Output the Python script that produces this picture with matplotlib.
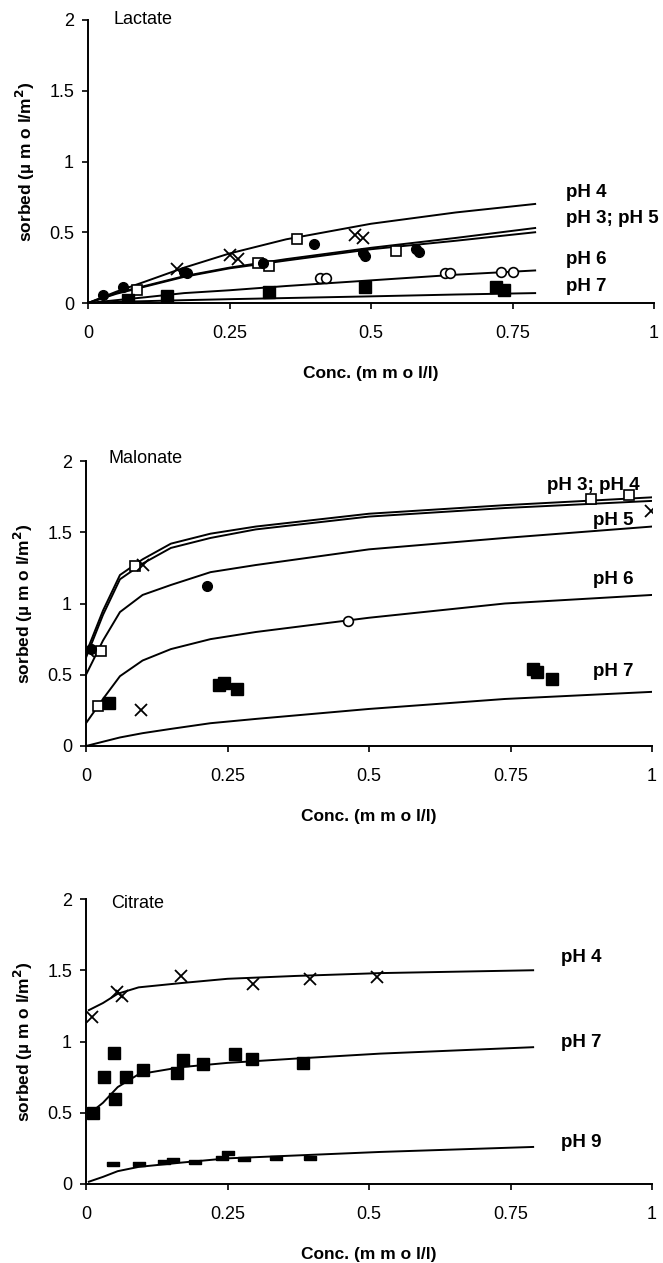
import matplotlib
matplotlib.use("Agg")
import matplotlib.pyplot as plt

plt.rcParams['font.family'] = ['Liberation Sans', 'DejaVu Sans']

# ---------------- Lactate ----------------
lac_x = [0, 0.05, 0.1, 0.17, 0.25, 0.35, 0.5, 0.65, 0.79]
lac_ph4 = [0, 0.08, 0.15, 0.25, 0.35, 0.45, 0.56, 0.64, 0.70]
lac_ph3 = [0, 0.07, 0.12, 0.19, 0.25, 0.31, 0.39, 0.46, 0.53]
lac_ph5 = [0, 0.065, 0.115, 0.185, 0.245, 0.30, 0.38, 0.44, 0.50]
lac_ph6 = [0, 0.02, 0.04, 0.07, 0.09, 0.12, 0.16, 0.20, 0.23]
lac_ph7 = [0, 0.008, 0.013, 0.02, 0.027, 0.035, 0.047, 0.06, 0.07]

lac_open_sq_x = [0.086, 0.30, 0.32, 0.37, 0.545]
lac_open_sq_y = [0.09, 0.28, 0.26, 0.45, 0.37]
lac_cross_x = [0.157, 0.25, 0.265, 0.472, 0.486]
lac_cross_y = [0.24, 0.34, 0.31, 0.48, 0.46]
lac_dot_x = [0.027, 0.062, 0.17, 0.175, 0.31, 0.40, 0.485, 0.49, 0.58, 0.585]
lac_dot_y = [0.06, 0.11, 0.22, 0.21, 0.28, 0.42, 0.35, 0.33, 0.38, 0.36]
lac_circ_x = [0.41, 0.42, 0.63, 0.64, 0.73, 0.75]
lac_circ_y = [0.18, 0.18, 0.21, 0.21, 0.22, 0.22]
lac_fsq_x = [0.07, 0.14, 0.32, 0.49, 0.72, 0.735]
lac_fsq_y = [0.02, 0.05, 0.08, 0.11, 0.11, 0.09]

# ---------------- Malonate ----------------
mal_x = [0, 0.03, 0.06, 0.1, 0.15, 0.22, 0.3, 0.5, 0.74, 1.0]
mal_ph3 = [0.65, 0.95, 1.2, 1.31, 1.42, 1.49, 1.54, 1.63, 1.69, 1.745]
mal_ph4 = [0.62, 0.92, 1.17, 1.28, 1.39, 1.46, 1.52, 1.61, 1.67, 1.72]
mal_ph5 = [0.5, 0.74, 0.94, 1.06, 1.13, 1.22, 1.27, 1.38, 1.46, 1.54]
mal_ph6 = [0.16, 0.33, 0.49, 0.6, 0.68, 0.75, 0.8, 0.9, 1.0, 1.06]
mal_ph7 = [0, 0.03, 0.06, 0.09, 0.12, 0.16, 0.19, 0.26, 0.33, 0.38]

mal_open_sq_x = [0.026, 0.086, 0.022, 0.893, 0.96]
mal_open_sq_y = [0.67, 1.26, 0.28, 1.73, 1.76]
mal_cross_x = [0.004, 0.10, 0.097, 0.998]
mal_cross_y = [0.67, 1.27, 0.25, 1.65]
mal_dot_x = [0.008, 0.213]
mal_dot_y = [0.68, 1.12]
mal_circ_x = [0.463]
mal_circ_y = [0.88]
mal_fsq_x = [0.04, 0.235, 0.243, 0.267, 0.79, 0.796, 0.824]
mal_fsq_y = [0.30, 0.43, 0.44, 0.40, 0.54, 0.52, 0.47]

# ---------------- Citrate ----------------
cit_x = [0.005, 0.03, 0.056, 0.093, 0.168, 0.25, 0.37, 0.52, 0.79]
cit_ph4 = [1.22, 1.27, 1.335, 1.38, 1.41, 1.44, 1.46, 1.48, 1.50]
cit_ph7 = [0.49, 0.57, 0.68, 0.77, 0.82, 0.85, 0.88, 0.915, 0.96]
cit_ph9 = [0.016, 0.05, 0.09, 0.12, 0.15, 0.18, 0.2, 0.225, 0.26]

cit_cross_x = [0.01, 0.055, 0.064, 0.168, 0.295, 0.395, 0.514]
cit_cross_y = [1.17, 1.345, 1.32, 1.46, 1.405, 1.44, 1.455]
cit_fsq_x = [0.013, 0.032, 0.049, 0.052, 0.07, 0.1, 0.16, 0.172, 0.207, 0.264, 0.293, 0.383]
cit_fsq_y = [0.5, 0.75, 0.92, 0.6, 0.75, 0.8, 0.78, 0.87, 0.84, 0.915, 0.88, 0.85]
cit_bar_x = [0.047, 0.093, 0.138, 0.153, 0.193, 0.24, 0.25, 0.279, 0.336, 0.396]
cit_bar_y = [0.138, 0.138, 0.152, 0.168, 0.156, 0.18, 0.215, 0.175, 0.184, 0.184]

x_ticks = [0, 0.25, 0.5, 0.75, 1]
x_ticklabels = ['0', '0.25', '0.5', '0.75', '1']
y_ticks = [0, 0.5, 1, 1.5, 2]
y_ticklabels = ['0', '0.5', '1', '1.5', '2']

W, H = 663, 1263
fig = plt.figure(figsize=(W / 100, H / 100), dpi=100)


def make_axes(left, right, top, bottom):
    ax = fig.add_axes([left / W, 1 - bottom / H, (right - left) / W, (bottom - top) / H])
    ax.set_xlim(0, 1)
    ax.set_ylim(0, 2)
    ax.spines['top'].set_visible(False)
    ax.spines['right'].set_visible(False)
    ax.spines['left'].set_linewidth(1.4)
    ax.spines['bottom'].set_linewidth(1.4)
    ax.set_xticks(x_ticks)
    ax.set_xticklabels(x_ticklabels)
    ax.set_yticks(y_ticks)
    ax.set_yticklabels(y_ticklabels)
    ax.tick_params(direction='out', length=4, width=1.2, labelsize=13)
    ax.tick_params(axis='x', pad=12)
    ax.tick_params(axis='y', pad=6)
    ax.set_xlabel('Conc. (m m o l/l)', fontsize=12.5, fontweight='bold', labelpad=17)
    ax.set_ylabel('sorbed (\u00b5 m o l/m$^{\\bf 2}$)', fontsize=12.5, fontweight='bold', labelpad=9)
    return ax


bar_marker = [(-1, -0.4), (1, -0.4), (1, 0.4), (-1, 0.4), (-1, -0.4)]
ms = 7
lw = 1.4
lbl = dict(fontsize=13.5, fontweight='bold', va='center', ha='left')

# Lactate panel
ax1 = make_axes(88, 654, 20, 303)
for ys in [lac_ph4, lac_ph3, lac_ph5, lac_ph6, lac_ph7]:
    ax1.plot(lac_x, ys, color='black', lw=lw)
ax1.plot(lac_open_sq_x, lac_open_sq_y, 's', mfc='white', mec='black', ms=ms, mew=1.2)
ax1.plot(lac_cross_x, lac_cross_y, 'x', color='black', ms=ms + 1, mew=1.3)
ax1.plot(lac_dot_x, lac_dot_y, 'o', color='black', ms=ms)
ax1.plot(lac_circ_x, lac_circ_y, 'o', mfc='white', mec='black', ms=ms, mew=1.2)
ax1.plot(lac_fsq_x, lac_fsq_y, 's', color='black', ms=ms + 1)
ax1.text(0.045, 2.0, 'Lactate', fontsize=13, va='center', ha='left')
ax1.text(0.845, 0.78, 'pH 4', **lbl)
ax1.text(0.845, 0.60, 'pH 3; pH 5', **lbl)
ax1.text(0.845, 0.31, 'pH 6', **lbl)
ax1.text(0.845, 0.12, 'pH 7', **lbl)

# Malonate panel
ax2 = make_axes(86, 652, 461, 746)
for ys in [mal_ph3, mal_ph4, mal_ph5, mal_ph6, mal_ph7]:
    ax2.plot(mal_x, ys, color='black', lw=lw)
ax2.plot(mal_open_sq_x, mal_open_sq_y, 's', mfc='white', mec='black', ms=ms, mew=1.2)
ax2.plot(mal_cross_x, mal_cross_y, 'x', color='black', ms=ms + 1, mew=1.3)
ax2.plot(mal_dot_x, mal_dot_y, 'o', color='black', ms=ms)
ax2.plot(mal_circ_x, mal_circ_y, 'o', mfc='white', mec='black', ms=ms, mew=1.2)
ax2.plot(mal_fsq_x, mal_fsq_y, 's', color='black', ms=ms + 1)
ax2.text(0.04, 2.02, 'Malonate', fontsize=13, va='center', ha='left')
ax2.text(0.815, 1.83, 'pH 3; pH 4', **lbl)
ax2.text(0.895, 1.58, 'pH 5', **lbl)
ax2.text(0.895, 1.17, 'pH 6', **lbl)
ax2.text(0.895, 0.52, 'pH 7', **lbl)

# Citrate panel
ax3 = make_axes(86, 652, 899, 1184)
for ys in [cit_ph4, cit_ph7, cit_ph9]:
    ax3.plot(cit_x, ys, color='black', lw=lw)
ax3.plot(cit_cross_x, cit_cross_y, 'x', color='black', ms=ms + 1, mew=1.3)
ax3.plot(cit_fsq_x, cit_fsq_y, 's', color='black', ms=ms + 1)
ax3.plot(cit_bar_x, cit_bar_y, marker=bar_marker, ls='none', color='black', ms=ms + 1)
ax3.text(0.045, 1.97, 'Citrate', fontsize=13, va='center', ha='left')
ax3.text(0.84, 1.59, 'pH 4', **lbl)
ax3.text(0.84, 0.99, 'pH 7', **lbl)
ax3.text(0.84, 0.29, 'pH 9', **lbl)

fig.savefig('out.png', dpi=100)
